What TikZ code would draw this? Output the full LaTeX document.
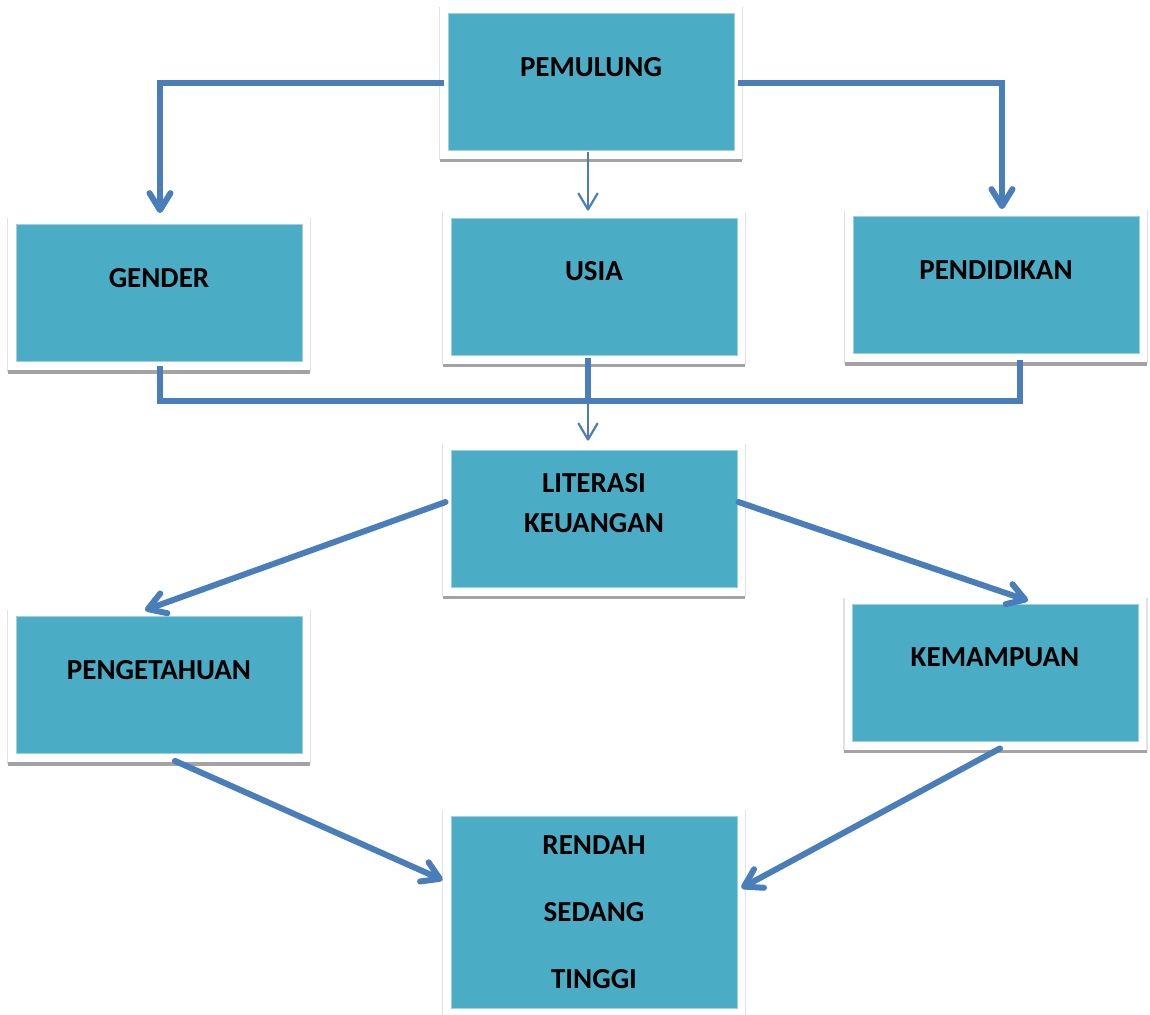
\documentclass[tikz,border=0pt]{standalone}
\usepackage{fontspec}
\setmainfont{Carlito}
\usepackage{tikz}
\usetikzlibrary{arrows.meta}
\usetikzlibrary{positioning}
\definecolor{boxteal}{HTML}{4BACC6}
\definecolor{linkblue}{HTML}{4A7EBB}
\definecolor{shadowgray}{HTML}{A3A3A3}
\definecolor{framegray}{HTML}{E2E2E2}
\tikzset{box node/.style={rectangle,fill=boxteal,draw=boxteal!55!white,line width=0.4pt,minimum width=143pt,minimum height=68.5pt,inner sep=0pt}}
\tikzset{label node/.style={font=\fontsize{14.5}{17}\selectfont\bfseries,inner sep=0pt}}
\tikzset{link/.style={draw=linkblue,line width=3pt,line cap=round,-{Straight Barb[length=8.5pt,width=10.5pt,line cap=round,round]}}}
\tikzset{thin link/.style={draw=linkblue,line width=1.1pt,-{Straight Barb[length=8pt,width=9.5pt,line cap=round,round]}}}

\begin{document}
\begin{tikzpicture}[x=0.5pt,y=-0.5pt]
    \useasboundingbox (0,0) rectangle (1150,1014);

    \node[box node] (pemulung) at (591,81.5) {};
    \node[box node] (gender) at (159,293) {};
    \node[box node] (usia) at (594,286.5) {};
    \node[box node] (pendidikan) at (996,285) {};
    \node[box node] (literasi) at (594,518.5) {};
    \node[box node] (pengetahuan) at (159,685) {};
    \node[box node] (kemampuan) at (995.5,672.5) {};
    \node[box node,minimum height=96pt] (tingkat) at (594,912) {};

    % frames and shadows
    \foreach \n in {pemulung,gender,usia,pendidikan,literasi,pengetahuan,kemampuan,tingkat} {
        \draw[framegray,line width=0.8pt] ([shift={(-8,-6)}]\n.north west) -- ([shift={(-8,10)}]\n.south west);
        \draw[framegray,line width=0.8pt] ([shift={(8,-6)}]\n.north east) -- ([shift={(8,10)}]\n.south east);
        \draw[shadowgray,line width=1.6pt] ([shift={(-8,10)}]\n.south west) -- ([shift={(8,10)}]\n.south east);
    }

    \node[label node] (t_pemulung) at (591,67) {PEMULUNG};
    \node[label node] (t_gender) at (159,278) {GENDER};
    \node[label node] (t_usia) at (594,271) {USIA};
    \node[label node] (t_pendidikan) at (996,270) {PENDIDIKAN};
    \node[label node] (t_literasi) at (594,483) {LITERASI};
    \node[label node] (t_keuangan) at (594,523) {KEUANGAN};
    \node[label node] (t_pengetahuan) at (159,670) {PENGETAHUAN};
    \node[label node] (t_kemampuan) at (995,657) {KEMAMPUAN};
    \node[label node] (t_rendah) at (594,845) {RENDAH};
    \node[label node] (t_sedang) at (594,912) {SEDANG};
    \node[label node] (t_tinggi) at (594,979) {TINGGI};

    \coordinate (merge) at (588,401);

    \path[link,line cap=butt]
        ([shift={(-4,1.5)}]pemulung.west) -| ([shift={(1,-11)}]gender.north);
    \path[link,line cap=butt]
        ([shift={(4,1.5)}]pemulung.east) -| ([shift={(6,-7)}]pendidikan.north);
    \path[thin link]
        ([shift={(-3,2)}]pemulung.south) -- ([shift={(-6,-7)}]usia.north);

    \draw[linkblue,line width=3pt]
        ([shift={(1,4)}]gender.south) |- (merge) -| ([shift={(24,6)}]pendidikan.south);
    \draw[linkblue,line width=3pt]
        ([shift={(-6,3)}]usia.south) -- (merge);
    \path[thin link]
        (merge) -- ([shift={(0,-9)}]literasi.north -| merge);

    \path[link]
        ([shift={(-5,-16.5)}]literasi.west) -- ([shift={(-14,-6)}]pengetahuan.north);
    \path[link]
        ([shift={(1,-16.5)}]literasi.east) -- ([shift={(32.5,-3)}]kemampuan.north);
    \path[link]
        ([shift={(16,7)}]pengetahuan.south) -- ([shift={(-8,-32)}]tingkat.west);
    \path[link]
        ([shift={(4.5,7)}]kemampuan.south) -- ([shift={(4,-24)}]tingkat.east);

\end{tikzpicture}
\end{document}
